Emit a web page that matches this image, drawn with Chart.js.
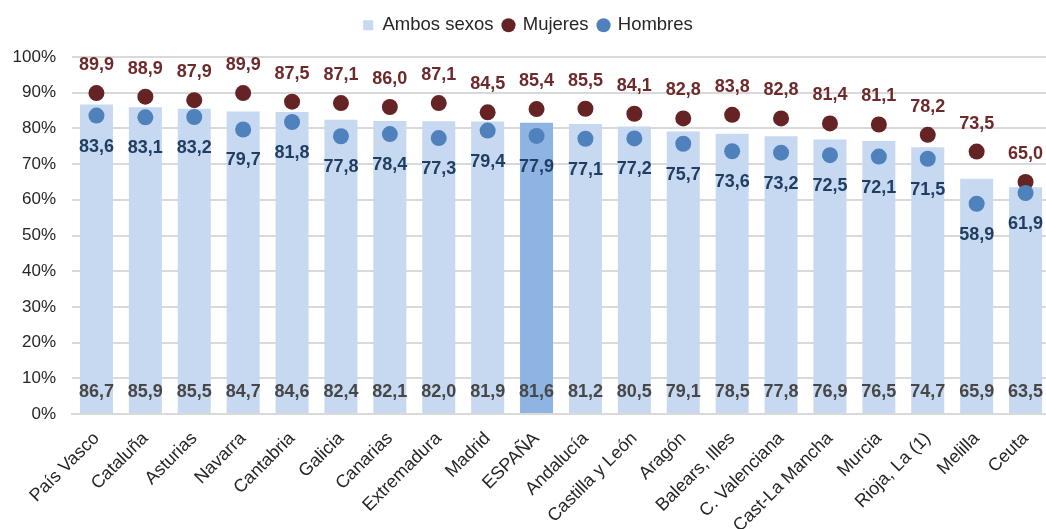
<!DOCTYPE html>
<html>
<head>
<meta charset="utf-8">
<script src="https://cdn.jsdelivr.net/npm/chart.js@4/dist/chart.umd.min.js"></script>
<style>
  html, body { margin: 0; padding: 0; background: #fff; overflow: hidden; }
  #wrap { width: 1058px; height: 529px; }
</style>
</head>
<body>
<div id="wrap"><canvas id="chart" width="1058" height="529"></canvas></div>
<script>
// Datos por comunidad (%)
const regiones = ['País Vasco', 'Cataluña', 'Asturias', 'Navarra', 'Cantabria', 'Galicia', 'Canarias',
  'Extremadura', 'Madrid', 'ESPAÑA', 'Andalucía', 'Castilla y León', 'Aragón', 'Balears, Illes',
  'C. Valenciana', 'Cast-La Mancha', 'Murcia', 'Rioja, La (1)', 'Melilla', 'Ceuta'];
const ambosSexos = [86.7, 85.9, 85.5, 84.7, 84.6, 82.4, 82.1, 82.0, 81.9, 81.6, 81.2, 80.5, 79.1, 78.5, 77.8, 76.9, 76.5, 74.7, 65.9, 63.5];
const mujeres = [89.9, 88.9, 87.9, 89.9, 87.5, 87.1, 86.0, 87.1, 84.5, 85.4, 85.5, 84.1, 82.8, 83.8, 82.8, 81.4, 81.1, 78.2, 73.5, 65.0];
const hombres = [83.6, 83.1, 83.2, 79.7, 81.8, 77.8, 78.4, 77.3, 79.4, 77.9, 77.1, 77.2, 75.7, 73.6, 73.2, 72.5, 72.1, 71.5, 58.9, 61.9];
const yTicks = [0, 10, 20, 30, 40, 50, 60, 70, 80, 90, 100];

const barColors = regiones.map(r => r === 'ESPAÑA' ? '#8EB4E3' : '#C6D9F1');
const fmt = v => v.toFixed(1).replace('.', ',');

// etiquetas de valores
const valueLabels = {
  id: 'valueLabels',
  afterDatasetsDraw(chart) {
    const ctx = chart.ctx;
    const y = chart.scales.y;
    ctx.save();
    ctx.font = 'bold 18px "Liberation Sans", Arial, sans-serif';
    ctx.textAlign = 'center';
    ctx.textBaseline = 'middle';

    // ambos sexos: abajo de la barra
    chart.getDatasetMeta(0).data.forEach((bar, i) => {
      ctx.fillStyle = '#474747';
      ctx.fillText(fmt(ambosSexos[i]), bar.x, y.getPixelForValue(0) - 22);
    });
    // mujeres: encima del punto
    chart.getDatasetMeta(1).data.forEach((pt, i) => {
      ctx.fillStyle = '#6E2A2A';
      ctx.fillText(fmt(mujeres[i]), pt.x, pt.y - 28);
    });
    // hombres: debajo del punto
    chart.getDatasetMeta(2).data.forEach((pt, i) => {
      ctx.fillStyle = '#213E62';
      ctx.fillText(fmt(hombres[i]), pt.x, pt.y + 31);
    });
    ctx.restore();
  }
};

// altura fija de la leyenda
const legendHeight = {
  id: 'legendHeight',
  beforeInit(chart) {
    const origFit = chart.legend.fit;
    chart.legend.fit = function () {
      origFit.bind(chart.legend)();
      this.height = 51;
    };
  }
};

const ctx = document.getElementById('chart').getContext('2d');
new Chart(ctx, {
  type: 'bar',
  data: {
    labels: regiones,
    datasets: [
      {
        label: 'Ambos sexos',
        data: ambosSexos,
        backgroundColor: barColors,
        borderWidth: 0,
        barPercentage: 0.675,
        categoryPercentage: 1,
        order: 3,
        pointStyle: 'rect'
      },
      {
        type: 'line',
        label: 'Mujeres',
        data: mujeres,
        showLine: false,
        pointRadius: 8,
        pointHoverRadius: 8,
        pointBackgroundColor: '#652323',
        pointBorderWidth: 0,
        backgroundColor: '#652323',
        borderColor: '#652323',
        order: 2,
        pointStyle: 'circle'
      },
      {
        type: 'line',
        label: 'Hombres',
        data: hombres,
        showLine: false,
        pointRadius: 8,
        pointHoverRadius: 8,
        pointBackgroundColor: '#4F81BD',
        pointBorderWidth: 0,
        backgroundColor: '#4F81BD',
        borderColor: '#4F81BD',
        order: 1,
        pointStyle: 'circle'
      }
    ]
  },
  options: {
    responsive: false,
    animation: false,
    layout: { padding: { left: 0, right: 2, top: 6, bottom: 0 } },
    plugins: {
      legend: {
        position: 'top',
        labels: {
          usePointStyle: true,
          boxWidth: 10,
          boxHeight: 10,
          padding: 10,
          color: '#262626',
          font: { size: 18.5, family: '"Liberation Sans", Arial, sans-serif' },
          sort: (a, b) => a.datasetIndex - b.datasetIndex
        }
      },
      tooltip: { enabled: false }
    },
    scales: {
      x: {
        grid: { display: false },
        border: { color: '#D9D9D9', width: 2 },
        ticks: {
          color: '#262626',
          maxRotation: 45,
          minRotation: 45,
          padding: 6,
          autoSkip: false,
          font: { size: 18, family: '"Liberation Sans", Arial, sans-serif' }
        },
        afterFit(scale) { scale.height = 115; }
      },
      y: {
        min: 0,
        max: 100,
        grid: { color: '#D9D9D9', lineWidth: 2, drawTicks: false },
        border: { display: false },
        afterBuildTicks(scale) { scale.ticks = yTicks.map(v => ({ value: v })); },
        ticks: {
          color: '#262626',
          padding: 16,
          font: { size: 17, family: '"Liberation Sans", Arial, sans-serif' },
          callback: v => v + '%'
        },
        afterFit(scale) { scale.width = 72; }
      }
    }
  },
  plugins: [valueLabels, legendHeight]
});
</script>
</body>
</html>
